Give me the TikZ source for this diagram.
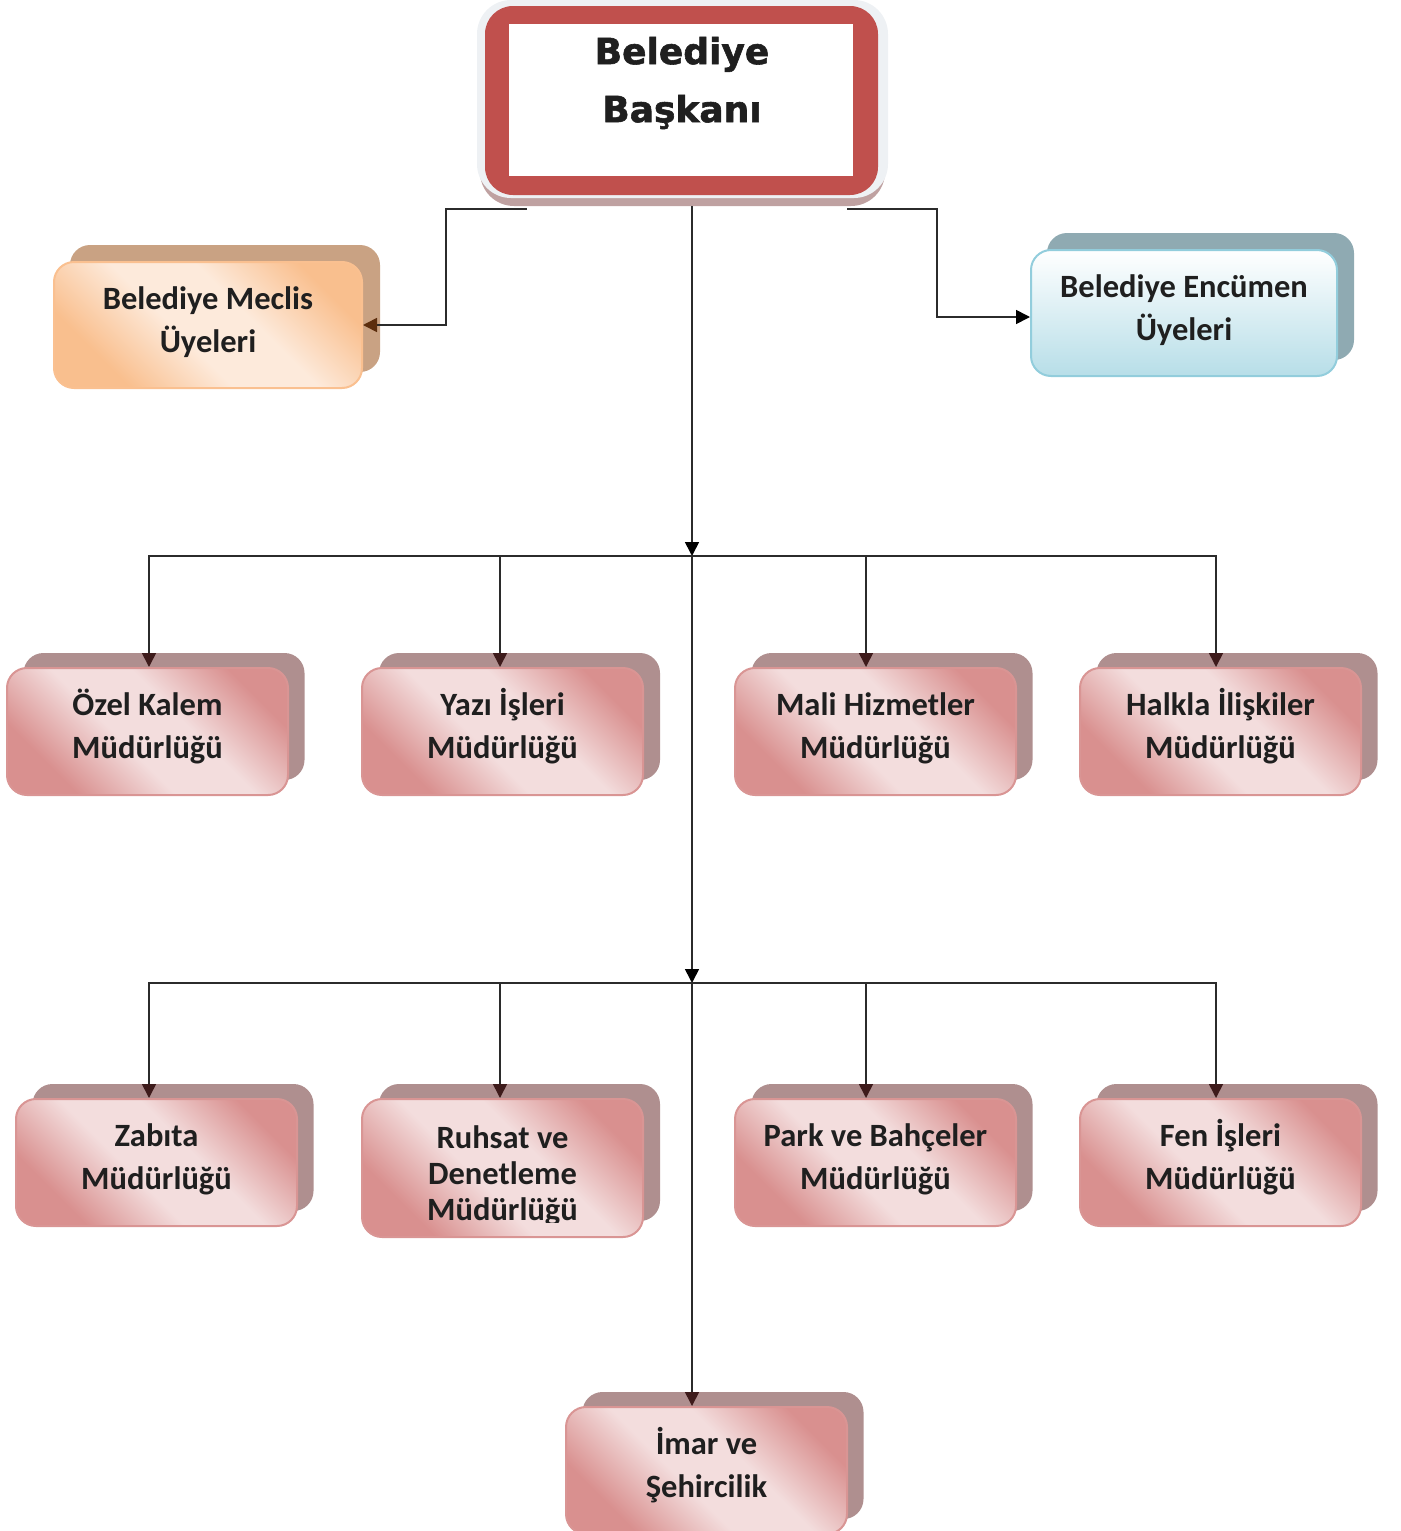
\documentclass[tikz,border=0pt]{standalone}
\usepackage{fontspec}
\setmainfont{Carlito}
\newfontfamily\titlefont[FakeBold=1.6]{DejaVu Sans}
\usetikzlibrary{arrows.meta}

\definecolor{pinkD}{HTML}{D9908F}
\definecolor{pinkL}{HTML}{F3DDDD}
\definecolor{pinkEdge}{HTML}{D99594}
\definecolor{pinkShadow}{HTML}{AF8F8F}
\definecolor{orangeD}{HTML}{F9BF8E}
\definecolor{orangeL}{HTML}{FDEADB}
\definecolor{orangeEdge}{HTML}{FAC090}
\definecolor{orangeShadow}{HTML}{C9A283}
\definecolor{blueL}{HTML}{FFFFFF}
\definecolor{blueD}{HTML}{B7DEE8}
\definecolor{blueEdge}{HTML}{92CDDC}
\definecolor{blueShadow}{HTML}{8FAAB2}
\definecolor{titleRed}{HTML}{C0504D}
\definecolor{titleGlow}{HTML}{EEF1F4}
\definecolor{titleShadow}{HTML}{BFA1A1}
\definecolor{textDark}{HTML}{1F1F1F}
\definecolor{lineDark}{HTML}{2B2B2B}
\definecolor{tipBrown}{HTML}{5C2E0E}
\definecolor{tipMaroon}{HTML}{3E1B1B}

\pgfdeclarehorizontalshading{pinkshade}{100bp}{color(0bp)=(pinkD); color(27bp)=(pinkD); color(44bp)=(pinkL); color(58bp)=(pinkL); color(75bp)=(pinkD); color(100bp)=(pinkD)}
\pgfdeclarehorizontalshading{orangeshade}{100bp}{color(0bp)=(orangeD); color(27bp)=(orangeD); color(44bp)=(orangeL); color(58bp)=(orangeL); color(75bp)=(orangeD); color(100bp)=(orangeD)}

\tikzset{
  unitbox/.style={rounded corners=20pt, minimum width=281pt, minimum height=127pt,
    inner sep=0pt, line width=2pt, align=center, text=textDark,
    text height=70pt, text depth=16pt,
    font=\bfseries\fontsize{32.5}{43}\selectfont},
  pinkbox/.style={unitbox, draw=pinkEdge, shading=pinkshade, shading angle=45},
  pinkback/.style={unitbox, fill=pinkShadow},
  link/.style={draw=lineDark, line width=1.6pt},
  tip/.style={-{Triangle[length=14pt,width=14pt,color=#1]}},
  tip/.default=black
}

\begin{document}
\begin{tikzpicture}[x=1pt,y=-1pt]
\useasboundingbox (0,0) rectangle (1400,1531);

% baskan
\node[fill=titleShadow, rounded corners=34pt, minimum width=405pt, minimum height=198pt, inner sep=0pt] (baskanshadow) at (682.5,107) {};
\node[fill=titleGlow, rounded corners=34pt, minimum width=411pt, minimum height=198pt, inner sep=0pt] (baskanglow) at (682.5,99) {};
\node[fill=titleRed, rounded corners=28pt, minimum width=393pt, minimum height=189pt, inner sep=0pt] (baskanframe) at (681.5,100.5) {};
\node[fill=white, minimum width=344pt, minimum height=152pt, inner sep=0pt] (baskanin) at (681,100) {};
\node[align=center, text=textDark, inner sep=0pt, font=\titlefont\bfseries\fontsize{36}{58}\selectfont] (baskan) at (682,83) {Belediye\\Başkanı};

% meclis and encumen
\node[unitbox, fill=orangeShadow, minimum width=310pt] (meclisb) at (225,308.5) {};
\node[unitbox, draw=orangeEdge, shading=orangeshade, shading angle=45, minimum width=308pt, minimum height=126pt] (meclis) at (208,325) {Belediye Meclis\\Üyeleri};
\node[unitbox, fill=blueShadow, minimum width=307pt] (encumenb) at (1200.5,296.5) {};
\node[unitbox, draw=blueEdge, top color=blueL, bottom color=blueD, minimum width=306pt, minimum height=126pt] (encumen) at (1184,313) {Belediye Encümen\\Üyeleri};

% first row
\node[pinkback] (ozelb) at (164,716.5) {};
\node[pinkbox] (ozel) at (147.5,731.5) {Özel Kalem\\Müdürlüğü};
\node[pinkback] (yazib) at (519.5,716.5) {};
\node[pinkbox] (yazi) at (502.5,731.5) {Yazı İşleri\\Müdürlüğü};
\node[pinkback] (malib) at (892,716.5) {};
\node[pinkbox] (mali) at (875.5,731.5) {Mali Hizmetler\\Müdürlüğü};
\node[pinkback] (halklab) at (1237,716.5) {};
\node[pinkbox] (halkla) at (1220.5,731.5) {Halkla İlişkiler\\Müdürlüğü};

% second row
\node[pinkback] (zabitab) at (173,1147.5) {};
\node[pinkbox] (zabita) at (156.5,1162.5) {Zabıta\\Müdürlüğü};
\node[pinkback, minimum height=137pt] (ruhsatb) at (519.5,1152.5) {};
\node[pinkbox, minimum height=138pt] (ruhsat) at (502.5,1168) {};
\begin{scope}
  \clip (370,1100) rectangle (636,1222);
  \node[align=center, text=textDark, inner sep=0pt, font=\bfseries\fontsize{32.5}{36}\selectfont] (ruhsattext) at (502.5,1176) {Ruhsat ve\\Denetleme\\Müdürlüğü};
\end{scope}
\node[pinkback] (parkb) at (892,1147.5) {};
\node[pinkbox] (park) at (875.5,1162.5) {Park ve Bahçeler\\Müdürlüğü};
\node[pinkback] (fenb) at (1237,1147.5) {};
\node[pinkbox] (fen) at (1220.5,1162.5) {Fen İşleri\\Müdürlüğü};

% imar
\node[pinkback] (imarb) at (723,1455.5) {};
\node[pinkbox] (imar) at (706.5,1470.5) {İmar ve\\Şehircilik};

% connectors
\coordinate (j1) at (692,556);
\coordinate (j2) at (692,983);
\draw[link, tip=tipBrown] ([xshift=-155.5pt,yshift=-3pt]baskanshadow.south) -| ([xshift=83pt]meclis.east) -- (meclis.east);
\draw[link, tip] ([xshift=164.5pt,yshift=-3pt]baskanshadow.south) -| ([xshift=-93pt,yshift=-4pt]encumen.west) -- ([yshift=-4pt]encumen.west);
\draw[link, tip] (baskanshadow.south -| j1) -- (j1);
\draw[link, tip] (j1) -- (j2);
\draw[link, tip=tipMaroon] (j2) -- (j2 |- imar.north);
\draw[link, tip=tipMaroon] (j1) -| ([xshift=1.5pt]ozel.north);
\draw[link, tip=tipMaroon] (j1) -| ([xshift=-2.5pt]yazi.north);
\draw[link, tip=tipMaroon] (j1) -| ([xshift=-9.5pt]mali.north);
\draw[link, tip=tipMaroon] (j1) -| ([xshift=-4.5pt]halkla.north);
\draw[link, tip=tipMaroon] (j2) -| ([xshift=-7.5pt]zabita.north);
\draw[link, tip=tipMaroon] (j2) -| ([xshift=-2.5pt]ruhsat.north);
\draw[link, tip=tipMaroon] (j2) -| ([xshift=-9.5pt]park.north);
\draw[link, tip=tipMaroon] (j2) -| ([xshift=-4.5pt]fen.north);
\end{tikzpicture}
\end{document}
